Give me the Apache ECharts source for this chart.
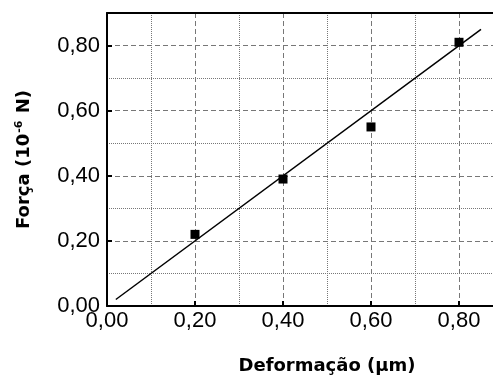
<!DOCTYPE html>
<html>
<head>
<meta charset="utf-8">
<script src="https://cdn.jsdelivr.net/npm/echarts@6/dist/echarts.min.js"></script>
<style>html,body{margin:0;padding:0;background:#fff}#c{width:493px;height:378px}</style>
</head>
<body>
<div id="c"></div>
<script>
const deformacao = [0.2, 0.4, 0.6, 0.8];
const forca = [0.22, 0.39, 0.55, 0.81];
const fitX = [0.02, 0.85];
const fitY = [0.02, 0.85];
const tickValues = [0, 0.2, 0.4, 0.6, 0.8];
const tickLabels = ['0,00', '0,20', '0,40', '0,60', '0,80'];

function fmt(v) {
  const i = tickValues.findIndex(t => Math.abs(t - v) < 1e-6);
  return i >= 0 ? tickLabels[i] : '';
}

const chart = echarts.init(document.getElementById('c'));
const labelStyle = {formatter: fmt, fontSize: 22, color: '#000', fontFamily: 'Liberation Sans', showMaxLabel: false};
const titleFont = {fontFamily: 'DejaVu Sans', fontWeight: 'bold', fontSize: 18, color: '#000'};
const major = {show: true, lineStyle: {type: [5, 3], color: '#777', width: 1}};
const minor = {show: true, lineStyle: {type: [1, 1], color: ['rgba(0,0,0,0)', '#777'], width: 1}};
const blackLine = {color: '#000', width: 2};

chart.setOption({
  animation: false,
  grid: {left: 107, top: 13, right: -10, bottom: 72, outerBoundsMode: 'none'},
  xAxis: [
    {type: 'value', min: 0, max: 0.9, interval: 0.2, position: 'bottom',
     axisLine: {show: true, onZero: false, lineStyle: blackLine},
     axisTick: {show: true, inside: true, length: 5, lineStyle: blackLine},
     axisLabel: Object.assign({margin: 4}, labelStyle),
     splitLine: major,
     name: 'Deformação (µm)', nameLocation: 'middle', nameGap: 51,
     nameTextStyle: Object.assign({padding: [0, 0, 0, 44]}, titleFont)},
    {type: 'value', min: 0, max: 0.9, interval: 0.1, position: 'top',
     axisLine: {show: true, onZero: false, lineStyle: blackLine},
     axisTick: {show: false}, axisLabel: {show: false}, splitLine: minor}
  ],
  yAxis: [
    {type: 'value', min: 0, max: 0.9, interval: 0.2, position: 'left',
     axisLine: {show: true, onZero: false, lineStyle: blackLine},
     axisTick: {show: true, inside: true, length: 5, lineStyle: blackLine},
     axisLabel: Object.assign({margin: 7}, labelStyle),
     splitLine: major,
     name: '{b|Força (10}{s|-6}{b| N)}', nameLocation: 'middle', nameGap: 73,
     nameTextStyle: {rich: {
       b: titleFont,
       s: {fontFamily: 'DejaVu Sans', fontWeight: 'bold', fontSize: 11, color: '#000', padding: [0, 1, 9, 1]}
     }}},
    {type: 'value', min: 0, max: 0.9, interval: 0.1, position: 'right',
     axisLine: {show: false}, axisTick: {show: false}, axisLabel: {show: false}, splitLine: minor}
  ],
  series: [
    {type: 'line', xAxisIndex: 0, yAxisIndex: 0, data: fitX.map((x, i) => [x, fitY[i]]),
     showSymbol: false, lineStyle: {color: '#000', width: 1.5}, z: 3},
    {type: 'scatter', xAxisIndex: 0, yAxisIndex: 0, data: deformacao.map((x, i) => [x, forca[i]]),
     symbol: 'rect', symbolSize: 9, itemStyle: {color: '#000', opacity: 1}, z: 4}
  ]
});
</script>
</body>
</html>
